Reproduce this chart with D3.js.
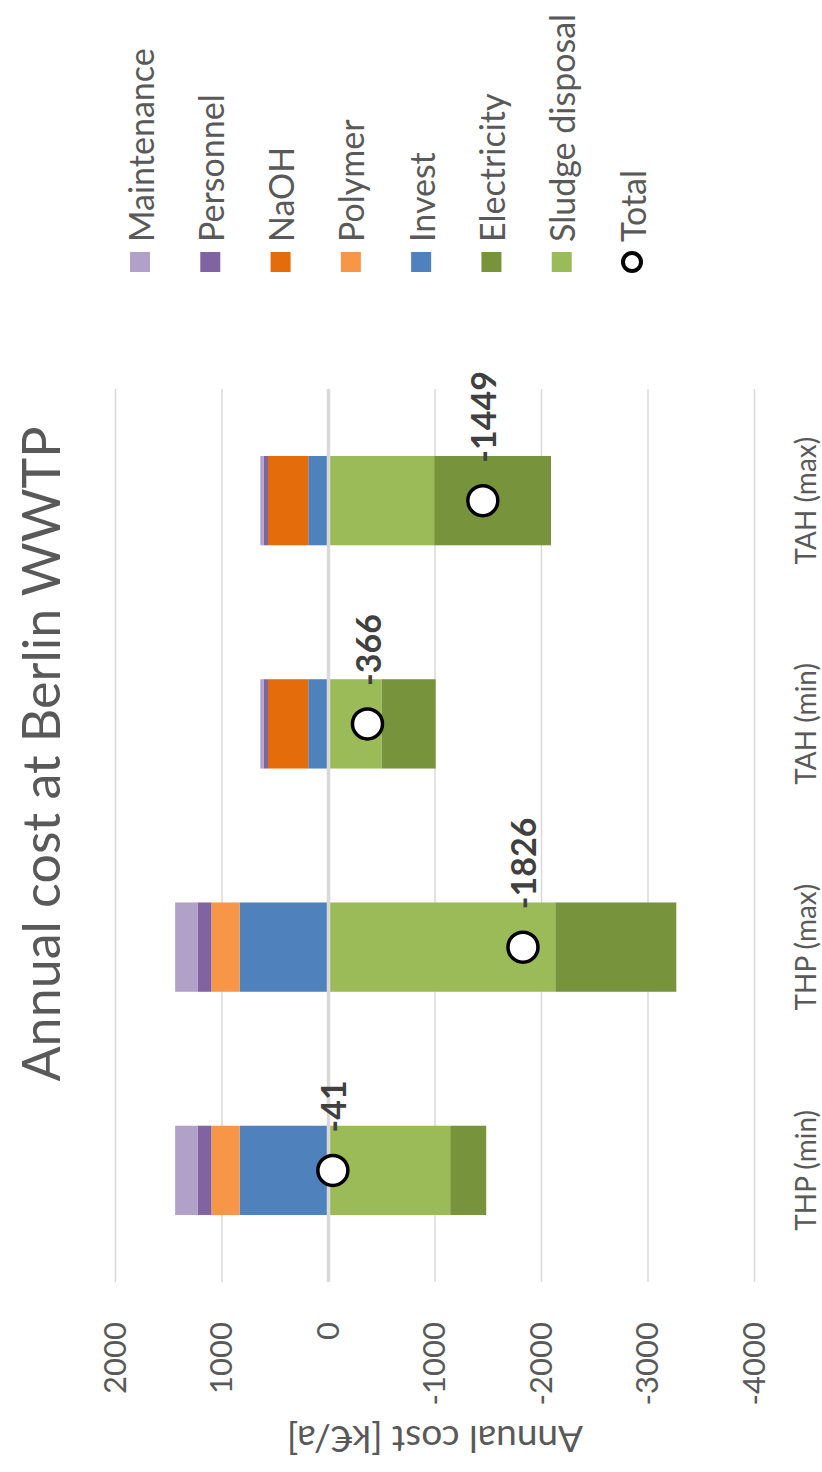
<!DOCTYPE html>
<html>
<head>
<meta charset="utf-8">
<script src="https://cdn.jsdelivr.net/npm/d3@7"></script>
<style>
  body { margin: 0; background: #fff; }
  svg { display: block; }
  text { font-family: Lato, "Open Sans", sans-serif; }
</style>
</head>
<body>
<svg id="chart" width="822" height="1472"></svg>
<script>
// Annual cost components per process variant, in k€/a (costs positive, savings negative)
const categories = ["THP (min)", "THP (max)", "TAH (min)", "TAH (max)"];
const maintenance = [210, 210, 31, 31];
const personnel = [130, 130, 41, 41];
const naoh = [0, 0, 378, 378];
const polymer = [265, 265, 0, 0];
const invest = [835, 835, 190, 190];
const electricity = [-338, -1136, -506, -1096];
const sludgeDisposal = [-1143, -2130, -500, -993];
const totals = [-41, -1826, -366, -1449];
const valueTicks = [2000, 1000, 0, -1000, -2000, -3000, -4000];

const legendNames = ["Maintenance", "Personnel", "NaOH", "Polymer", "Invest", "Electricity", "Sludge disposal"];
const colors = {
  "Maintenance": "#b1a0c7",
  "Personnel": "#8064a2",
  "NaOH": "#e46c0a",
  "Polymer": "#f79646",
  "Invest": "#4f81bd",
  "Electricity": "#77933c",
  "Sludge disposal": "#9bbb59"
};

// stacking order outward from zero
const stackKeys = ["Sludge disposal", "Electricity", "Invest", "Polymer", "NaOH", "Personnel", "Maintenance"];
const rows = categories.map((c, i) => ({
  category: c,
  "Maintenance": maintenance[i],
  "Personnel": personnel[i],
  "NaOH": naoh[i],
  "Polymer": polymer[i],
  "Invest": invest[i],
  "Electricity": electricity[i],
  "Sludge disposal": sludgeDisposal[i],
  total: totals[i]
}));

const series = d3.stack().keys(stackKeys).offset(d3.stackOffsetDiverging)(rows);

// plain hyphen-minus for negative numbers
const fmt = v => String(Math.round(v));

// The chart is laid out in a landscape frame and turned a quarter turn
const W = 1472, H = 822;
const svg = d3.select("#chart");
const g = svg.append("g").attr("transform", `translate(0,${W}) rotate(-90)`);

const x = d3.scaleBand().domain(categories).range([190, 1083]).paddingInner(0).paddingOuter(0);
const y = d3.scaleLinear().domain([2000, -4000]).range([115.5, 754.5]);
const barW = x.bandwidth() * 0.4;
const textGrey = "#595959";

// title
g.append("text")
  .attr("x", 718).attr("y", 60)
  .attr("text-anchor", "middle")
  .attr("font-size", 52)
  .attr("fill", textGrey)
  .text("Annual cost at Berlin WWTP");

// gridlines
g.append("g").selectAll("line").data(valueTicks.filter(v => v !== 0)).join("line")
  .attr("x1", x.range()[0]).attr("x2", x.range()[1])
  .attr("y1", d => y(d)).attr("y2", d => y(d))
  .attr("stroke", "#d9d9d9").attr("stroke-width", 1.5);

// value axis labels
const yAxis = d3.axisLeft(y).tickValues(valueTicks).tickSize(0).tickPadding(0).tickFormat(fmt);
const yAxisG = g.append("g").attr("transform", "translate(150,0)").call(yAxis);
yAxisG.select(".domain").remove();
yAxisG.selectAll("text")
  .attr("font-size", 31)
  .attr("fill", textGrey)
  .attr("font-family", "Lato, 'Open Sans', sans-serif");

// value axis title
g.append("text")
  .attr("transform", `translate(32,${y(-1000)}) rotate(-90)`)
  .attr("text-anchor", "middle")
  .attr("dominant-baseline", "central")
  .attr("font-size", 37)
  .attr("fill", textGrey)
  .text("Annual cost [k€/a]");

// stacked bars
g.append("g").selectAll("g").data(series).join("g")
  .attr("fill", s => colors[s.key])
  .selectAll("rect").data(s => s).join("rect")
  .attr("x", d => x(d.data.category) + (x.bandwidth() - barW) / 2)
  .attr("width", barW)
  .attr("y", d => y(Math.max(d[0], d[1])))
  .attr("height", d => Math.abs(y(d[0]) - y(d[1])));

// zero line
g.append("line")
  .attr("x1", x.range()[0]).attr("x2", x.range()[1])
  .attr("y1", y(0)).attr("y2", y(0))
  .attr("stroke", "#d9d9d9").attr("stroke-width", 3.5);

// category axis labels
const xAxis = d3.axisBottom(x).tickSize(0).tickPadding(0);
const xAxisG = g.append("g").attr("transform", "translate(0,805)").call(xAxis);
xAxisG.select(".domain").remove();
xAxisG.selectAll("text")
  .attr("dy", null)
  .attr("y", 0)
  .attr("dominant-baseline", "central")
  .attr("font-size", 28)
  .attr("fill", textGrey)
  .attr("font-family", "Lato, 'Open Sans', sans-serif");

// total markers and labels
const cx = d => x(d.category) + x.bandwidth() / 2;
g.append("g").selectAll("circle").data(rows).join("circle")
  .attr("cx", cx).attr("cy", d => y(d.total))
  .attr("r", 15)
  .attr("fill", "#fff").attr("stroke", "#000").attr("stroke-width", 3.5);

g.append("g").selectAll("text").data(rows).join("text")
  .attr("x", d => cx(d) + 38).attr("y", d => y(d.total))
  .attr("dominant-baseline", "central")
  .attr("font-size", 34).attr("font-weight", "bold")
  .attr("fill", "#404040")
  .text(d => fmt(d.total));

// legend
const legend = g.append("g");
const items = legendNames.concat(["Total"]);
const ly = d3.scalePoint().domain(items).range([140, 632]);
const li = legend.selectAll("g").data(items).join("g")
  .attr("transform", d => `translate(1210,${ly(d)})`);
li.each(function(d) {
  const s = d3.select(this);
  if (d === "Total") {
    s.append("circle").attr("r", 9).attr("fill", "#fff").attr("stroke", "#000").attr("stroke-width", 4);
  } else {
    s.append("rect").attr("x", -10).attr("y", -10).attr("width", 20).attr("height", 20).attr("fill", colors[d]);
  }
  s.append("text").attr("x", 20).attr("dominant-baseline", "central")
    .attr("font-size", 34).attr("fill", textGrey).text(d);
});
</script>
</body>
</html>
